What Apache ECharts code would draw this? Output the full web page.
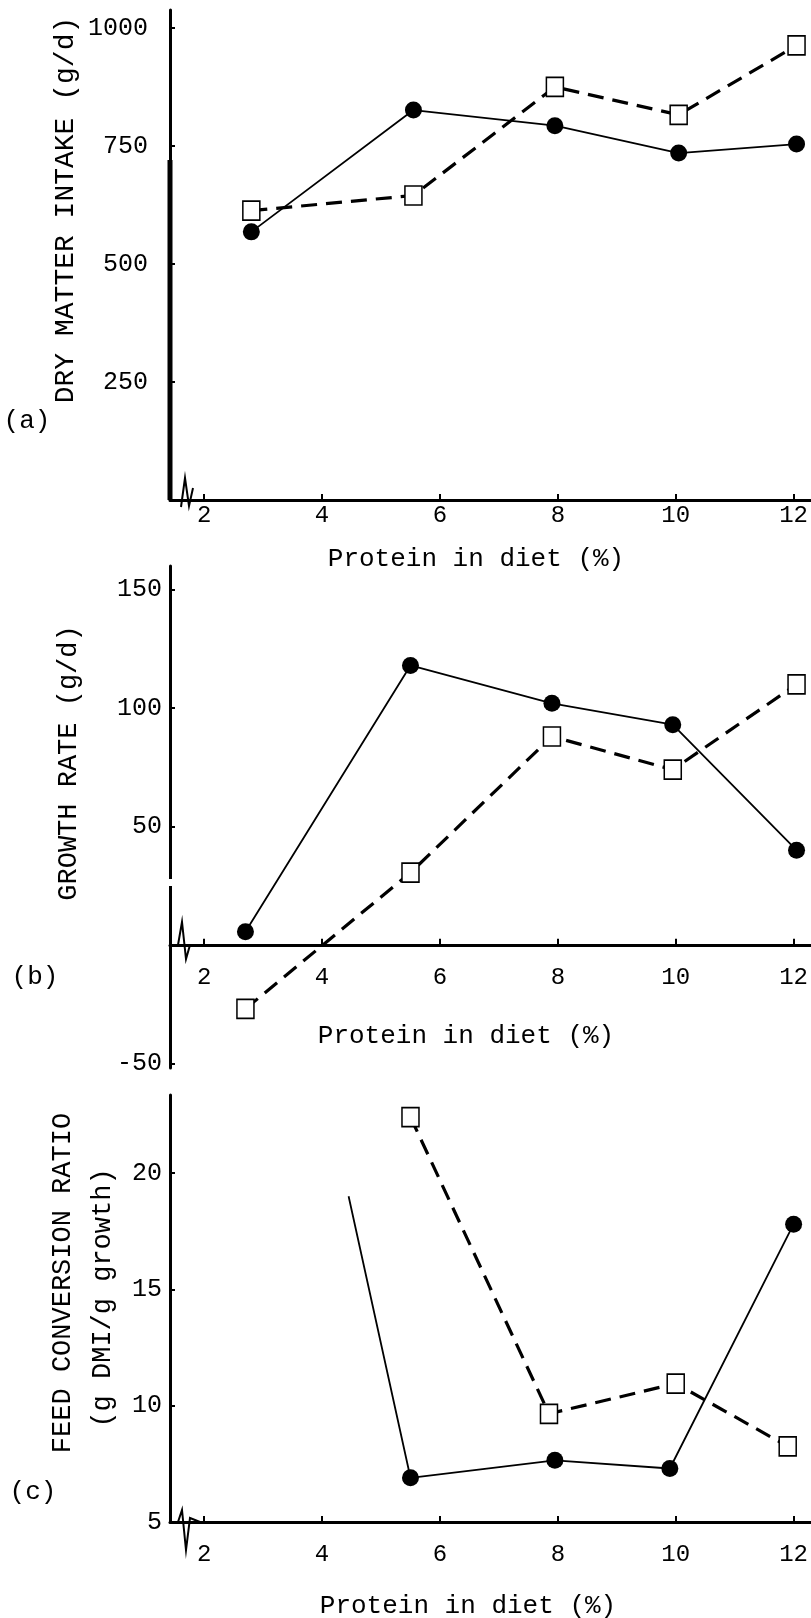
<!DOCTYPE html>
<html><head><meta charset="utf-8">
<script src="https://cdn.jsdelivr.net/npm/echarts@6/dist/echarts.min.js"></script>
<style>html,body{margin:0;padding:0;background:#fff}#c{width:811px;height:1618px}</style>
</head><body><div id="c"></div>
<script>
// ---- data ----
const xTicks = [2, 4, 6, 8, 10, 12];

const proteinA = [2.8, 5.55, 7.95, 10.05, 12.05];
const dmiCircle = [568, 826, 793, 735, 754];
const dmiSquare = [613, 645, 875, 816, 963];
const dmiTicks = [250, 500, 750, 1000];

const proteinB = [2.7, 5.5, 7.9, 9.95, 12.05];
const growthCircle = [5.5, 118, 102, 93, 40];
const growthSquare = [-27, 30.5, 88, 74, 110];
const growthTicks = [-50, 50, 100, 150];

const proteinCCircle = [4.45, 5.5, 7.95, 9.9, 12.0];
const fcrCircle = [19.0, 6.9, 7.65, 7.3, 17.8];
const proteinCSquare = [5.5, 7.85, 10.0, 11.9];
const fcrSquare = [22.4, 9.65, 10.95, 8.25];
const fcrTicks = [5, 10, 15, 20];

// ---- layout / style ----
const FONT = '"Liberation Mono", "Courier New", monospace';
const X_MIN = 1.42, X_MAX = 12.29;

const grids = [
  {left: 170, top: 10, width: 641, height: 490},
  {left: 170, top: 566, width: 641, height: 502},
  {left: 170, top: 1095, width: 641, height: 427}
];

const plain = v => String(v);

function xAxis(gi, margin) {
  return {
    type: 'value', gridIndex: gi, min: X_MIN, max: X_MAX,
    axisLine: {onZero: true, lineStyle: {color: '#000', width: 3}},
    axisTick: {inside: true, length: 6, customValues: xTicks, lineStyle: {color: '#000', width: 2}},
    axisLabel: {customValues: xTicks, fontFamily: FONT, fontSize: 24, color: '#000', margin: margin, formatter: plain},
    splitLine: {show: false}
  };
}
function yAxis(gi, min, max, ticks, margin) {
  return {
    type: 'value', gridIndex: gi, min: min, max: max,
    axisLine: {onZero: false, lineStyle: {color: '#000', width: 3}},
    axisTick: {inside: true, length: 5, customValues: ticks, lineStyle: {color: '#000', width: 2}},
    axisLabel: {customValues: ticks, fontFamily: FONT, fontSize: 25, color: '#000', margin: margin, formatter: plain},
    splitLine: {show: false}
  };
}
function solid(gi, xs, ys, firstNone) {
  return {
    type: 'line', xAxisIndex: gi, yAxisIndex: gi, z: 3,
    data: xs.map((x, i) => (firstNone && i === 0) ? {value: [x, ys[i]], symbol: 'none'} : [x, ys[i]]),
    symbol: 'circle', symbolSize: 17, showSymbol: true,
    itemStyle: {color: '#000'},
    lineStyle: {color: '#000', width: 1.8, type: 'solid'},
    animation: false, clip: false
  };
}
function dashed(gi, xs, ys) {
  return {
    type: 'line', xAxisIndex: gi, yAxisIndex: gi, z: 4,
    data: xs.map((x, i) => [x, ys[i]]),
    symbol: 'rect', symbolSize: [17, 19], showSymbol: true,
    itemStyle: {color: '#fff', borderColor: '#000', borderWidth: 1.6},
    lineStyle: {color: '#000', width: 3.2, type: [16, 9]},
    animation: false, clip: false
  };
}
function txt(x, y, text, size, rot) {
  return {type: 'text', x: x, y: y, rotation: rot || 0, z: 10,
    style: {text: text, font: size + 'px ' + FONT, fill: '#000', align: 'center', verticalAlign: 'middle'}};
}
function zig(points) {
  return {type: 'polyline', z: 10, shape: {points: points}, style: {stroke: '#000', lineWidth: 2, fill: null}};
}

const option = {
  backgroundColor: '#fff',
  animation: false,
  grid: grids,
  xAxis: [xAxis(0, 4), xAxis(1, -102), xAxis(2, 21)],
  yAxis: [
    yAxis(0, 0, 1038, dmiTicks, 22),
    yAxis(1, -52, 160, growthTicks, 8),
    yAxis(2, 5, 23.35, fcrTicks, 8)
  ],
  series: [
    solid(0, proteinA, dmiCircle), dashed(0, proteinA, dmiSquare),
    solid(1, proteinB, growthCircle), dashed(1, proteinB, growthSquare),
    solid(2, proteinCCircle, fcrCircle, true), dashed(2, proteinCSquare, fcrSquare)
  ],
  graphic: [
    {type: 'line', z: 9, shape: {x1: 170, y1: 160, x2: 170, y2: 500}, style: {stroke: '#000', lineWidth: 5}},
    txt(66, 210, 'DRY MATTER INTAKE (g/d)', 28, Math.PI / 2),
    txt(27, 421, '(a)', 26),
    txt(476, 559, 'Protein in diet (%)', 26),
    zig([[181, 507], [185, 478], [189, 506], [193, 488]]),

    {type: 'rect', z: 9, shape: {x: 166, y: 879, width: 8, height: 7}, style: {fill: '#fff'}},
    txt(69, 763, 'GROWTH RATE (g/d)', 27, Math.PI / 2),
    txt(35, 977, '(b)', 26),
    txt(466, 1036, 'Protein in diet (%)', 26),
    zig([[170, 945], [178, 945], [182, 922], [186, 959], [190, 945], [205, 945]]),

    txt(63, 1283, 'FEED CONVERSION RATIO', 27, Math.PI / 2),
    txt(103, 1298, '(g DMI/g growth)', 27, Math.PI / 2),
    txt(33, 1492, '(c)', 26),
    txt(468, 1606, 'Protein in diet (%)', 26),
    zig([[170, 1522], [178, 1522], [182, 1510], [186, 1550], [190, 1518], [200, 1522]])
  ]
};
const chart = echarts.init(document.getElementById('c'), null, {renderer: 'canvas'});
chart.setOption(option);
</script></body></html>
